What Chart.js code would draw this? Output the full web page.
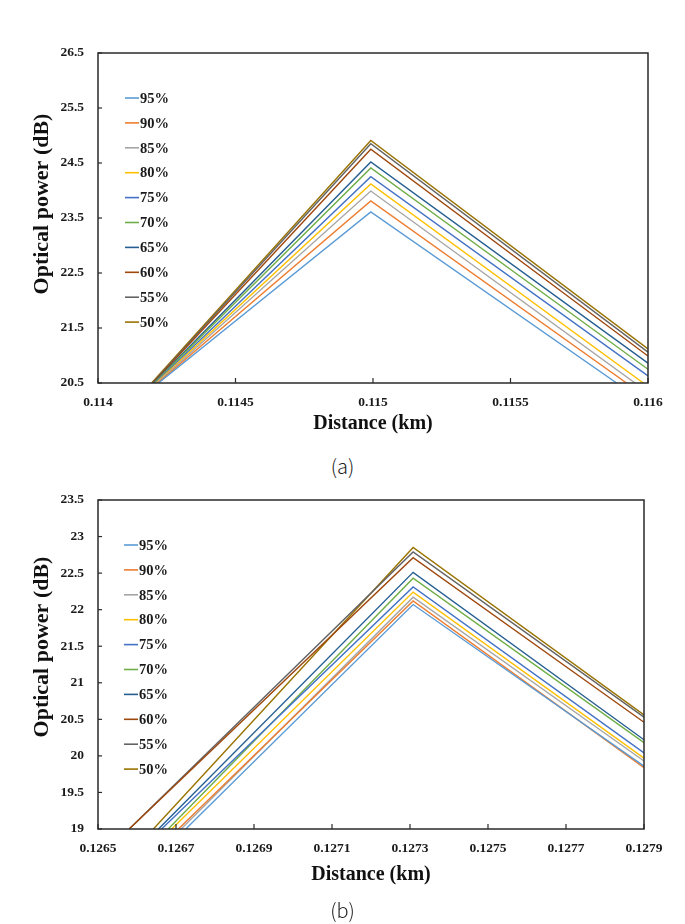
<!DOCTYPE html>
<html>
<head>
<meta charset="utf-8">
<script src="https://cdn.jsdelivr.net/npm/chart.js@4.4.1/dist/chart.umd.min.js"></script>
<style>
  html, body { margin:0; padding:0; background:#fff; }
  body { width:685px; height:924px; position:relative; overflow:hidden; }
  .wrap { position:absolute; left:0; }
  .cap { position:absolute; left:0; width:685px; text-align:center; font-family:"Noto Sans CJK KR","Noto Sans",sans-serif; font-weight:300; font-size:20px; color:#222; }
</style>
</head>
<body>
<div class="wrap" style="top:0"><canvas id="ca" width="685" height="440"></canvas></div>
<div class="cap" style="top:451px">(a)</div>
<div class="wrap" style="top:440px"><canvas id="cb" width="685" height="460"></canvas></div>
<div class="cap" style="top:895px">(b)</div>
<script>
// ---------- shared ----------
const seriesLabels = ['95%','90%','85%','80%','75%','70%','65%','60%','55%','50%'];
const seriesColors = ['#5B9BD5','#ED7D31','#A5A5A5','#FFC000','#4472C4','#70AD47','#255E91','#9E480E','#636363','#997300'];

// ---------- chart (a) ----------
const aStartKm = [0.11422,0.114217,0.114214,0.114211,0.114208,0.114205,0.114203,0.1142,0.114198,0.114195];
const aStartDb = [20.5,20.5,20.5,20.5,20.5,20.5,20.5,20.5,20.5,20.5];
const aPeakKm  = [0.114992,0.114992,0.114992,0.114992,0.114992,0.114992,0.114992,0.114992,0.114992,0.114992];
const aPeakDb  = [23.61,23.81,23.99,24.12,24.25,24.41,24.52,24.75,24.85,24.91];
const aEndKm   = [0.115886,0.115922,0.115953,0.115983,0.116,0.116,0.116,0.116,0.116,0.116];
const aEndDb   = [20.5,20.5,20.5,20.5,20.63,20.75,20.86,20.99,21.06,21.12];
const aXTicks  = [0.114,0.1145,0.115,0.1155,0.116];
const aXLabels = ['0.114','0.1145','0.115','0.1155','0.116'];
const aYTicks  = [20.5,21.5,22.5,23.5,24.5,25.5,26.5];
const aYLabels = ['20.5','21.5','22.5','23.5','24.5','25.5','26.5'];

// ---------- chart (b) ----------
const bStartKm = [0.126725,0.126706,0.126713,0.126689,0.126663,0.12668,0.126655,0.12658,0.12658,0.126642];
const bStartDb = [19,19,19,19,19,19,19,19,19,19];
const bPeakKm  = [0.127308,0.127308,0.127308,0.127308,0.127308,0.127308,0.127308,0.127308,0.127308,0.127308];
const bPeakDb  = [22.07,22.12,22.17,22.24,22.31,22.43,22.51,22.71,22.79,22.85];
const bEndKm   = [0.1279,0.1279,0.1279,0.1279,0.1279,0.1279,0.1279,0.1279,0.1279,0.1279];
const bEndDb   = [19.86,19.84,19.93,19.97,20.04,20.18,20.22,20.46,20.53,20.56];
const bXTicks  = [0.1265,0.1267,0.1269,0.1271,0.1273,0.1275,0.1277,0.1279];
const bXLabels = ['0.1265','0.1267','0.1269','0.1271','0.1273','0.1275','0.1277','0.1279'];
const bYTicks  = [19,19.5,20,20.5,21,21.5,22,22.5,23,23.5];
const bYLabels = ['19','19.5','20','20.5','21','21.5','22','22.5','23','23.5'];

const xTitle = 'Distance (km)';
const yTitle = 'Optical power (dB)';
const SERIF = '"Liberation Serif","Times New Roman",serif';

function buildDatasets(sx, sy, px, py, ex, ey) {
  return seriesLabels.map((lab, i) => ({
    label: lab,
    data: [{x:sx[i], y:sy[i]}, {x:px[i], y:py[i]}, {x:ex[i], y:ey[i]}],
    borderColor: seriesColors[i],
    backgroundColor: seriesColors[i],
    borderWidth: 1.4,
    pointRadius: 0,
    showLine: true,
    tension: 0
  }));
}

const framePlugin = {
  id: 'frame',
  afterDatasetsDraw(chart) {
    const {ctx, chartArea:{left, top, right, bottom}, scales:{x, y}} = chart;
    const o = chart.options.plugins.frame;
    ctx.save();
    // frame
    ctx.strokeStyle = '#2a2a2a';
    ctx.lineWidth = 1.5;
    ctx.strokeRect(left, top, right - left, bottom - top);
    // inward ticks
    ctx.lineWidth = 1.2;
    x.ticks.forEach(t => {
      const px = x.getPixelForValue(t.value);
      ctx.beginPath(); ctx.moveTo(px, bottom); ctx.lineTo(px, bottom - 5); ctx.stroke();
    });
    y.ticks.forEach(t => {
      const py = y.getPixelForValue(t.value);
      ctx.beginPath(); ctx.moveTo(left, py); ctx.lineTo(left + 4, py); ctx.stroke();
    });
    // legend inside plot
    ctx.font = 'bold 14.5px ' + SERIF;
    ctx.textBaseline = 'middle';
    ctx.textAlign = 'left';
    chart.data.datasets.forEach((ds, i) => {
      const ly = top + o.legendTop + i * o.legendStep;
      ctx.strokeStyle = ds.borderColor;
      ctx.lineWidth = 1.6;
      ctx.beginPath(); ctx.moveTo(left + o.legendLeft, ly); ctx.lineTo(left + o.legendLeft + 14, ly); ctx.stroke();
      ctx.fillStyle = '#1a1a1a';
      ctx.fillText(ds.label, left + o.legendLeft + 15, ly + 1);
    });
    // y title
    ctx.save();
    ctx.translate(o.yTitleX, o.yTitleY);
    ctx.rotate(-Math.PI / 2);
    ctx.font = 'bold 22px ' + SERIF;
    ctx.textAlign = 'center';
    ctx.textBaseline = 'middle';
    ctx.fillStyle = '#111';
    ctx.fillText(yTitle, 0, 0);
    ctx.restore();
    ctx.restore();
  }
};

function makeChart(id, datasets, cfg) {
  return new Chart(document.getElementById(id), {
    type: 'scatter',
    data: { datasets },
    plugins: [framePlugin],
    options: {
      responsive: false,
      animation: false,
      events: [],
      layout: { padding: { top: cfg.padTop, right: cfg.padRight, left: 0, bottom: 0 } },
      plugins: {
        legend: { display: false },
        tooltip: { enabled: false },
        frame: cfg.frame
      },
      scales: {
        x: {
          type: 'linear',
          min: cfg.xTicks[0], max: cfg.xTicks[cfg.xTicks.length - 1],
          grid: { display: false, drawTicks: false },
          border: { display: false },
          afterBuildTicks: s => { s.ticks = cfg.xTicks.map(v => ({value: v})); },
          afterFit: s => { s.height = cfg.xHeight; },
          ticks: {
            autoSkip: false, maxRotation: 0, padding: 11,
            color: '#1a1a1a',
            font: { family: SERIF, weight: 'bold', size: 13.5 },
            callback: (v, i) => cfg.xLabels[i]
          },
          title: {
            display: true, text: xTitle, color: '#111',
            font: { family: SERIF, weight: 'bold', size: 20 },
            padding: { top: 0, bottom: cfg.xTitlePad }
          }
        },
        y: {
          type: 'linear',
          min: cfg.yTicks[0], max: cfg.yTicks[cfg.yTicks.length - 1],
          grid: { display: false, drawTicks: false },
          border: { display: false },
          afterBuildTicks: s => { s.ticks = cfg.yTicks.map(v => ({value: v})); },
          afterFit: s => { s.width = 98; },
          ticks: {
            autoSkip: false, padding: 14,
            color: '#1a1a1a',
            font: { family: SERIF, weight: 'bold', size: 13.5 },
            callback: (v, i) => cfg.yLabels[i]
          }
        }
      }
    }
  });
}

makeChart('ca', buildDatasets(aStartKm, aStartDb, aPeakKm, aPeakDb, aEndKm, aEndDb), {
  padTop: 53, padRight: 37, xHeight: 57, xTitlePad: 4,
  xTicks: aXTicks, xLabels: aXLabels, yTicks: aYTicks, yLabels: aYLabels,
  frame: { legendLeft: 27, legendTop: 45, legendStep: 24.9, yTitleX: 42, yTitleY: 204 }
});

makeChart('cb', buildDatasets(bStartKm, bStartDb, bPeakKm, bPeakDb, bEndKm, bEndDb), {
  padTop: 60, padRight: 41, xHeight: 71, xTitlePad: 13,
  xTicks: bXTicks, xLabels: bXLabels, yTicks: bYTicks, yLabels: bYLabels,
  frame: { legendLeft: 26, legendTop: 45, legendStep: 24.9, yTitleX: 42, yTitleY: 207 }
});
</script>
</body>
</html>
